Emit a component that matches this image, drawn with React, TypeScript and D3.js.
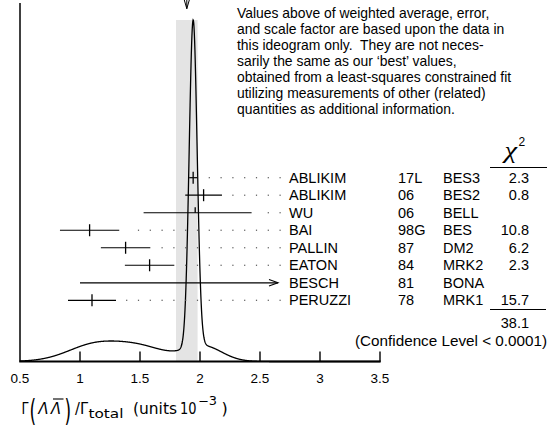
import React from 'react';
import * as d3 from 'd3';

const authors = ['ABLIKIM', 'ABLIKIM', 'WU', 'BAI', 'PALLIN', 'EATON', 'BESCH', 'PERUZZI'];
const years = ['17L', '06', '06', '98G', '87', '84', '81', '78'];
const experiments = ['BES3', 'BES2', 'BELL', 'BES', 'DM2', 'MRK2', 'BONA', 'MRK1'];
const values = [1.943, 2.03, 1.96, 1.08, 1.38, 1.58, 2.6, 1.1];
const errLow = [0.033, 0.153, 0.43, 0.247, 0.206, 0.206, 1.6, 0.2];
const errHigh = [0.033, 0.153, 0.47, 0.247, 0.206, 0.206, 1.6, 0.2];
const tickStyle = ['full', 'full', 'half', 'full', 'full', 'full', 'none', 'full'];
const chi2 = ['2.3', '0.8', '', '10.8', '6.2', '2.3', '', '15.7'];
const chi2Total = '38.1';
const confidence = '(Confidence Level < 0.0001)';
const weightedAverage = 1.89;
const averageError = 0.09;
const xTicks = [0.5, 1, 1.5, 2, 2.5, 3, 3.5];
const noteLines = [
  'Values above of weighted average, error,',
  'and scale factor are based upon the data in',
  'this ideogram only.  They are not neces-',
  'sarily the same as our \u2018best\u2019 values,',
  'obtained from a least-squares constrained fit',
  'utilizing measurements of other (related)',
  'quantities as additional information.',
];

const SANS = '"Liberation Sans", Arial, Helvetica, sans-serif';

export default function App() {
  const W = 552;
  const H = 427;
  const axisY = 361.5;
  const topY = 20;
  const x = d3.scaleLinear().domain([0.5, 3.5]).range([20, 380]);
  const used = chi2.map((c) => c !== '');
  const samples = d3.range(0.5, 3.5 + 1e-9, 0.0025);
  const density = (v: number) =>
    d3.sum(values.map((m, i) => {
      if (!used[i]) return 0;
      const s = v < m ? errLow[i] : errHigh[i];
      return Math.exp(-0.5 * ((v - m) / s) ** 2) / (s * s);
    }));
  const dens: [number, number][] = samples.map((v) => [v, density(v)]);
  const maxD = d3.max(dens, (d) => d[1]) as number;
  const y = d3.scaleLinear().domain([0, maxD]).range([axisY, topY]);
  const line = d3.line<[number, number]>().x((d) => x(d[0])).y((d) => y(d[1]));
  const row = d3.scalePoint<number>().domain(d3.range(authors.length)).range([177.7, 300.3]);
  const dotGrid = d3.range(23).map((k) => 20.5 + 11.8 * k);
  const arrowLimit = 278;
  const avgX = x(weightedAverage);

  return (
    <svg width={W} height={H} style={{ position: 'absolute', left: 0, top: 0, background: '#fff' }}
      fontFamily={SANS}>
      {/* average band */}
      <rect x={x(weightedAverage - averageError)} y={topY}
        width={x(weightedAverage + averageError) - x(weightedAverage - averageError)}
        height={axisY - topY} fill="#e4e4e4" />
      {/* average arrow */}
      <g stroke="#000" strokeWidth={1} fill="none">
        <line x1={avgX} x2={avgX} y1={0} y2={8.7} />
        <polyline points={`${avgX - 2.5},0 ${avgX},8.7 ${avgX + 2.5},0`} />
      </g>
      {/* ideogram */}
      <path d={line(dens) as string} fill="none" stroke="#000" strokeWidth={1.3} />
      {/* axes */}
      <line x1={20} x2={20} y1={3} y2={axisY} stroke="#000" strokeWidth={1.5} />
      <line x1={19.25} x2={x(3.5) + 0.75} y1={axisY} y2={axisY} stroke="#000" strokeWidth={1.8} />
      {xTicks.map((t) => (
        <g key={t}>
          {t > 0.5 && <line x1={x(t)} x2={x(t)} y1={axisY} y2={axisY - 10} stroke="#000" strokeWidth={1.4} />}
          <text x={x(t)} y={383} textAnchor="middle" fontSize={13.5}>{t}</text>
        </g>
      ))}
      {/* measurements */}
      {authors.map((a, i) => {
        const ry = row(i) as number;
        const lo = x(values[i] - errLow[i]);
        const hiRaw = x(values[i] + errHigh[i]);
        const arrow = hiRaw > arrowLimit;
        const hi = arrow ? arrowLimit : hiRaw;
        const cx = x(values[i]);
        return (
          <g key={i}>
            <line x1={lo} x2={hi} y1={ry} y2={ry} stroke="#000" strokeWidth={1.2} />
            {tickStyle[i] === 'full' && <line x1={cx} x2={cx} y1={ry - 6} y2={ry + 6} stroke="#000" strokeWidth={1.3} />}
            {tickStyle[i] === 'half' && <line x1={cx} x2={cx} y1={ry - 5.5} y2={ry} stroke="#000" strokeWidth={1.3} />}
            {arrow && <polyline points={`${hi - 9},${ry - 3.2} ${hi},${ry} ${hi - 9},${ry + 3.2}`} fill="none" stroke="#000" strokeWidth={1.1} />}
            {!arrow && dotGrid.filter((d) => d > hi + 9).map((d) => (
              <rect key={d} x={d - 0.6} y={ry - 0.6} width={1.2} height={1.2} fill="#555" />
            ))}
            <text x={289} y={ry + 5} fontSize={14.5}>{a}</text>
            <text x={398} y={ry + 5} fontSize={14.5}>{years[i]}</text>
            <text x={443} y={ry + 5} fontSize={14.5}>{experiments[i]}</text>
            <text x={529} y={ry + 5} fontSize={14.5} textAnchor="end">{chi2[i]}</text>
          </g>
        );
      })}
      {/* chi2 header and totals */}
      <text x={504.5} y={158} fontSize={23} fontFamily='"Liberation Serif", serif' fontStyle="italic"
        textLength={12.5} lengthAdjust="spacingAndGlyphs">χ</text>
      <text x={518.5} y={146} fontSize={12}>2</text>
      <line x1={490} x2={547} y1={167.5} y2={167.5} stroke="#000" strokeWidth={1.2} />
      <line x1={490} x2={546} y1={309.5} y2={309.5} stroke="#000" strokeWidth={1.2} />
      <text x={529} y={328} fontSize={14.5} textAnchor="end">{chi2Total}</text>
      <text x={355} y={346} fontSize={14.8} textLength={192} lengthAdjust="spacingAndGlyphs">{confidence}</text>
      {/* note */}
      {noteLines.map((l, i) => (
        <text key={i} x={237} y={18 + 16 * i} fontSize={13.9} style={{ whiteSpace: 'pre' }}>{l}</text>
      ))}
      {/* x label */}
      <g fontFamily='"DejaVu Sans", sans-serif' fontSize={16}>
        <text x={21.5} y={414} textLength={7} lengthAdjust="spacingAndGlyphs">Γ</text>
        <text transform="translate(29.5,421) scale(1,1.75)" fontSize={17}>(</text>
        <text x={38.5} y={414} fontStyle="italic" textLength={10} lengthAdjust="spacingAndGlyphs">Λ</text>
        <text x={51} y={414} fontStyle="italic" textLength={10} lengthAdjust="spacingAndGlyphs">Λ</text>
        <line x1={53} x2={63.5} y1={399} y2={399} stroke="#000" strokeWidth={1.1} />
        <text transform="translate(64.5,421) scale(1,1.75)" fontSize={17}>)</text>
        <text x={75} y={414} textLength={13} lengthAdjust="spacingAndGlyphs">/Γ</text>
        <text x={88.5} y={418} fontSize={12} textLength={35} lengthAdjust="spacingAndGlyphs">total</text>
        <text x={133} y={414} textLength={44} lengthAdjust="spacingAndGlyphs">(units</text>
        <text x={180} y={414} textLength={16.5} lengthAdjust="spacingAndGlyphs">10</text>
        <text x={198} y={405} fontSize={12} textLength={19} lengthAdjust="spacingAndGlyphs">−3</text>
        <text x={221.5} y={414}>)</text>
      </g>
    </svg>
  );
}
